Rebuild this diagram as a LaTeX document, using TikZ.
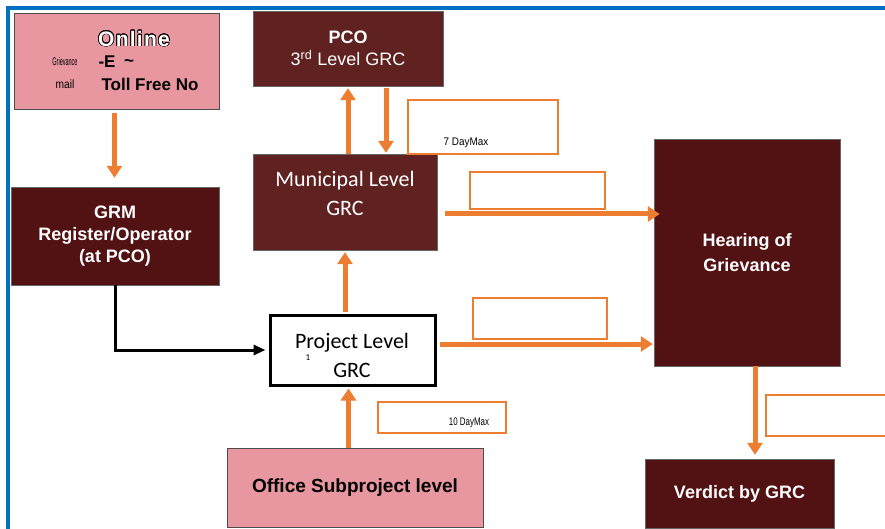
\documentclass[tikz,border=0pt]{standalone}
\usepackage{fontspec}
\usepackage{graphicx}
\usepackage{contour}
\setmainfont{Liberation Sans}
\newfontfamily\calibrifont{Carlito}
\usetikzlibrary{arrows.meta}

\definecolor{grvpink}{HTML}{E8969F}
\definecolor{grvmaroon}{HTML}{521113}
\definecolor{grvbrown}{HTML}{5F2220}
\definecolor{grvorange}{HTML}{ED7D31}
\definecolor{grvblue}{HTML}{0070C0}
\contourlength{0.7pt}

\tikzstyle{entry} = [draw=black!70, fill=grvpink, rectangle, inner sep=0pt]
\tikzstyle{entrytext} = [inner sep=0pt, font=\fontsize{17}{20}\selectfont\bfseries]
\tikzstyle{tinytext} = [inner sep=0pt, font=\fontsize{11}{12}\selectfont]
\tikzstyle{darkbox} = [draw=black!60, fill=grvmaroon, text=white, rectangle,
  inner sep=0pt, align=center, font=\fontsize{18}{22}\selectfont\bfseries]
\tikzstyle{levelbox} = [draw=black!60, fill=grvbrown, text=white, rectangle,
  inner sep=0pt, align=center, font=\calibrifont\fontsize{22}{29}\selectfont]
\tikzstyle{projbox} = [draw=black, line width=3pt, fill=white, rectangle,
  inner sep=0pt]
\tikzstyle{leveltext} = [inner sep=0pt, align=center,
  font=\calibrifont\fontsize{22}{29}\selectfont]
\tikzstyle{daybox} = [draw=grvorange, line width=1.5pt, fill=white, rectangle,
  inner sep=0pt]
\tikzstyle{daylabel} = [inner sep=0pt, font=\fontsize{11}{12}\selectfont]
\tikzstyle{flow} = [-{Triangle[length=12pt,width=15pt]}, line width=5pt,
  draw=grvorange]
\tikzstyle{feed} = [-{Triangle[length=12pt,width=10pt]}, line width=3pt,
  draw=black]

\begin{document}
\begin{tikzpicture}[x=1pt, y=-1pt]
        \useasboundingbox (0,0) rectangle (885,529);
        \draw[grvblue, line width=4pt] (8,535) -- (8,8) -- (890,8);

        % entry points
        \node [entry, minimum width=205pt, minimum height=96pt] (online) at (116.5,61) {};
        \node [entrytext, font=\fontsize{21}{22}\selectfont\bfseries\addfontfeature{LetterSpace=6}]
          (onlinetitle) at (134,39) {\contour{black}{\textcolor{white}{Online}}};
        \node [entrytext] (onlinemail)  at (107,62) {-E};
        \node [entrytext] (onlinetilde) at (129,63) {\textasciitilde};
        \node [entrytext] (onlinephone) at (150,84) {Toll Free No};
        \node [tinytext]  (onlinegrv)   at (65,62)  {\scalebox{0.5}[1]{Grievance}};
        \node [tinytext, font=\fontsize{12}{14}\selectfont] (onlinemail2) at (65,84)
          {\scalebox{0.85}[1]{mail}};
        \node [entry, minimum width=256pt, minimum height=79pt,
          font=\fontsize{19}{22}\selectfont\bfseries] (office) at (355,487.5)
          {Office Subproject level};

        % grievance levels
        \node [darkbox, minimum width=208pt, minimum height=98pt] (grmreg) at (115,236)
          {GRM\\Register/Operator\\(at PCO)};
        \node [levelbox, minimum width=190pt, minimum height=75pt,
          font=\fontsize{18}{22}\selectfont] (pco) at (348,48.5)
          {\textbf{PCO}\\3\textsuperscript{rd} Level GRC};
        \node [levelbox, minimum width=184pt, minimum height=96pt] (municipal) at (345,202) {};
        \node [leveltext, text=white] (municipaltext) at (345,193.5) {Municipal Level\\GRC};
        \node [projbox, minimum width=165pt, minimum height=70pt] (project) at (352.5,350) {};
        \node [leveltext] (projecttext) at (352,355.5) {Project Level\\GRC};
        \node [inner sep=0pt, font=\calibrifont\fontsize{9}{10}\selectfont] (projectmark)
          at (308,358) {1};
        \node [darkbox, minimum width=186pt, minimum height=227pt,
          font=\fontsize{18}{25}\selectfont\bfseries] (hearing) at (747,252.5)
          {Hearing of\\Grievance};
        \node [darkbox, minimum width=189pt, minimum height=69pt] (verdict) at (739.5,493.5)
          {Verdict by GRC};

        % time limits
        \node [daybox, minimum width=150pt, minimum height=54pt] (day7)  at (483,127) {};
        \node [daylabel] (day7label) at (466,143) {\scalebox{0.9}[1]{7 DayMax}};
        \node [daybox, minimum width=135pt, minimum height=37pt] (daymun) at (537.5,190.5) {};
        \node [daybox, minimum width=134pt, minimum height=41pt] (dayproj) at (540,318.5) {};
        \node [daybox, minimum width=128pt, minimum height=31pt] (day10) at (442,417.5) {};
        \node [daylabel] (day10label) at (469,423) {\scalebox{0.72}[1]{10 DayMax}};
        \node [daybox, minimum width=140pt, minimum height=41pt] (dayhear) at (836,415.5) {};

        \draw[flow, shorten <=4pt, shorten >=9pt] ([xshift=-2pt]online.south) --
        ([xshift=-2pt]online.south |- grmreg.north);
        \draw[feed, shorten >=3pt] (grmreg.south) |- (project.west);
        \draw[flow, shorten >=2pt] (pco.south |- municipal.north) -- (pco.south);
        \draw[flow, shorten <=2pt, shorten >=1pt] ([xshift=38pt]pco.south) --
        ([xshift=38pt]pco.south |- municipal.north);
        \draw[flow, shorten <=2pt, shorten >=2pt] (municipal.south |- project.north) --
        (municipal.south);
        \draw[flow, shorten >=2pt] ([xshift=-4pt]project.south |- office.north) --
        ([xshift=-4pt]project.south);
        \draw[flow, shorten <=8pt, shorten >=-6pt] ([yshift=-12pt]municipal.east) --
        ([yshift=-12pt]municipal.east -| hearing.west);
        \draw[flow, shorten <=3pt, shorten >=1pt] ([yshift=6pt]project.east) --
        ([yshift=6pt]project.east -| hearing.west);
        \draw[flow, shorten >=4pt] ([xshift=8pt]hearing.south) --
        ([xshift=8pt]hearing.south |- verdict.north);
      \end{tikzpicture}
\end{document}
